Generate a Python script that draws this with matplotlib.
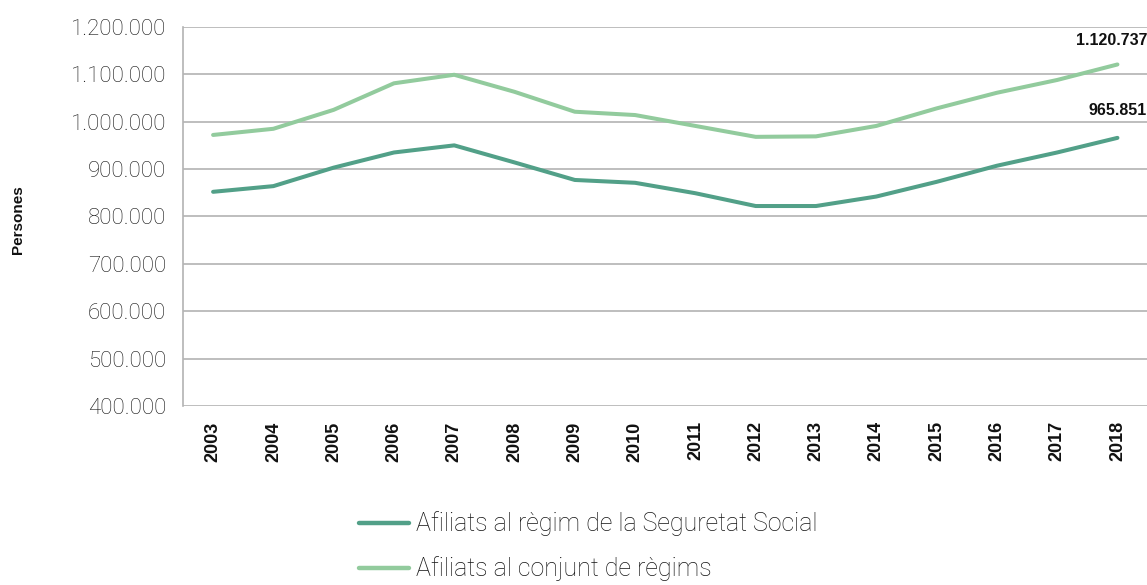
import matplotlib
matplotlib.use("Agg")
import matplotlib.pyplot as plt
from matplotlib.ticker import FuncFormatter

years = [str(y) for y in range(2003, 2019)]
seguretat_social = [852000, 864000, 903000, 935000, 950000, 914000, 877000, 871000,
                    849000, 822000, 822000, 842000, 873000, 907000, 935000, 965851]
conjunt_regims = [972000, 985000, 1025000, 1081000, 1099000, 1063000, 1021000, 1014000,
                  991000, 968000, 969000, 991000, 1028000, 1061000, 1088000, 1120737]

dark_green = "#52a088"
light_green = "#92cb9d"
grid_grey = "#b3b3b3"

def thousands(v, pos):
    return "{:,.0f}".format(v).replace(",", ".")

fig = plt.figure(figsize=(11.47, 5.85), dpi=100)
ax = fig.add_axes([0.1595, 0.306, 0.841, 0.648])

x = list(range(len(years)))
ax.plot(x, seguretat_social, color=dark_green, lw=2.9, solid_capstyle="round",
        label="Afiliats al règim de la Seguretat Social")
ax.plot(x, conjunt_regims, color=light_green, lw=2.9, solid_capstyle="round",
        label="Afiliats al conjunt de règims")

# value labels on the last year
ax.annotate(thousands(conjunt_regims[-1], None), (x[-1], conjunt_regims[-1]),
            xytext=(-4, 12), textcoords="offset points", ha="center", va="bottom",
            fontsize=11.5, fontweight="bold", family="Liberation Sans", color="#111111",
            annotation_clip=False)
ax.annotate(thousands(seguretat_social[-1], None), (x[-1], seguretat_social[-1]),
            xytext=(0, 14), textcoords="offset points", ha="center", va="bottom",
            fontsize=11.5, fontweight="bold", family="Liberation Sans", color="#111111",
            annotation_clip=False)

ax.set_xlim(-0.5, len(years) - 0.5)
ax.set_ylim(400000, 1200000)
ax.set_yticks(range(400000, 1200001, 100000))
ax.yaxis.set_major_formatter(FuncFormatter(thousands))
ax.set_xticks(x)
ax.set_xticklabels(years, rotation=90, fontsize=13, fontweight="bold",
                   family="Liberation Sans", color="#111111")
for lbl in ax.get_yticklabels():
    lbl.set_fontsize(16)
    lbl.set_family("Roboto")
    lbl.set_fontweight("light")
    lbl.set_color("#141414")

ax.tick_params(axis="both", length=0)
ax.tick_params(axis="y", pad=12)
ax.tick_params(axis="x", pad=11)
ax.grid(axis="y", color=grid_grey, lw=1.2)
ax.set_axisbelow(True)
for side in ["top", "right", "bottom"]:
    ax.spines[side].set_visible(False)
ax.spines["left"].set_color(grid_grey)
ax.spines["left"].set_linewidth(1.2)

fig.text(0.016, 0.625, "Persones", rotation=90, ha="center", va="center",
         fontsize=11, fontweight="bold", family="Liberation Sans", color="#111111")

leg = fig.legend(loc="center", bbox_to_anchor=(0.513, 0.066), ncol=1, frameon=False,
                 handlelength=2.0, handletextpad=0.28, labelspacing=0.8,
                 prop={"family": "Roboto", "weight": "light", "size": 18})
for line in leg.get_lines():
    line.set_linewidth(3.2)
for t in leg.get_texts():
    t.set_color("#141414")

fig.savefig("out.png", dpi=100)
